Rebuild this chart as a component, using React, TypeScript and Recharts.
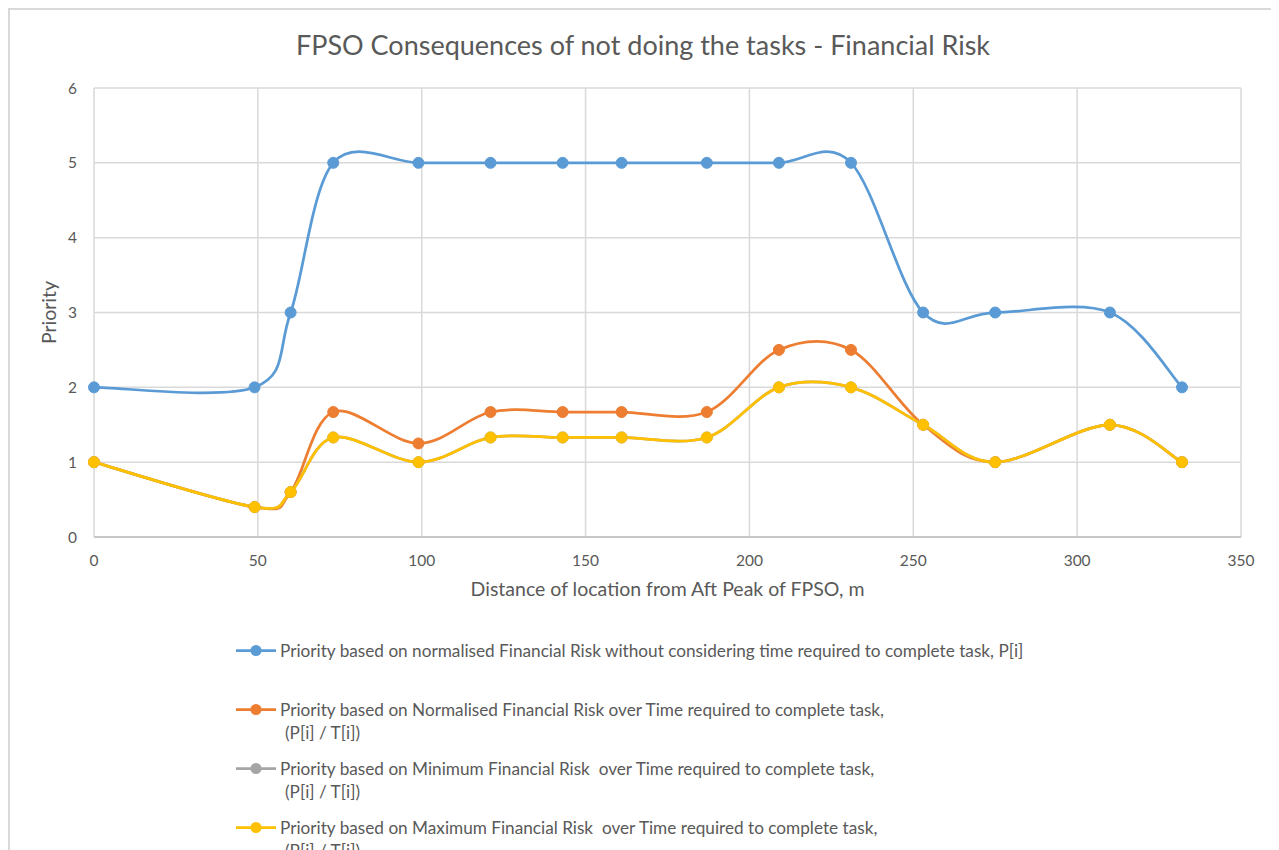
import React from 'react';
import { LineChart, Line, XAxis, YAxis, CartesianGrid } from 'recharts';

const distances = [0, 49, 60, 73, 99, 121, 143, 161, 187, 209, 231, 253, 275, 310, 332];
const priorityP = [2, 2, 3, 5, 5, 5, 5, 5, 5, 5, 5, 3, 3, 3, 2];
const priorityNormOverT = [1, 0.4, 0.6, 1.67, 1.25, 1.67, 1.67, 1.67, 1.67, 2.5, 2.5, 1.5, 1, 1.5, 1];
const priorityMinOverT = [1, 0.4, 0.6, 1.33, 1, 1.33, 1.33, 1.33, 1.33, 2, 2, 1.5, 1, 1.5, 1];
const priorityMaxOverT = [1, 0.4, 0.6, 1.33, 1, 1.33, 1.33, 1.33, 1.33, 2, 2, 1.5, 1, 1.5, 1];

const xTicks = [0, 50, 100, 150, 200, 250, 300, 350];
const yTicks = [0, 1, 2, 3, 4, 5, 6];

const seriesNames = [
  ['Priority based on normalised Financial Risk without considering time required to complete task, P[i]'],
  ['Priority based on Normalised Financial Risk over Time required to complete task,', '(P[i] / T[i])'],
  ['Priority based on Minimum Financial Risk  over Time required to complete task,', '(P[i] / T[i])'],
  ['Priority based on Maximum Financial Risk  over Time required to complete task,', '(P[i] / T[i])'],
];
const seriesKeys = ['p', 'norm', 'min', 'max'];
const seriesColors = ['#5B9BD5', '#ED7D31', '#A5A5A5', '#FFC000'];

const data = distances.map((d, i) => ({
  x: d,
  p: priorityP[i],
  norm: priorityNormOverT[i],
  min: priorityMinOverT[i],
  max: priorityMaxOverT[i],
}));

// Excel-like smoothing (Catmull-Rom style cubic Bezier)
function excelSmooth(context: any) {
  let pts: number[][] = [];
  return {
    areaStart() {},
    areaEnd() {},
    lineStart() {
      pts = [];
    },
    point(x: number, y: number) {
      pts.push([+x, +y]);
    },
    lineEnd() {
      if (!pts.length) return;
      context.moveTo(pts[0][0], pts[0][1]);
      for (let i = 0; i < pts.length - 1; i++) {
        const p0 = pts[i - 1] || pts[i];
        const p1 = pts[i];
        const p2 = pts[i + 1];
        const p3 = pts[i + 2] || p2;
        const c1x = p1[0] + (p2[0] - p0[0]) / 6;
        const c1y = p1[1] + (p2[1] - p0[1]) / 6;
        const c2x = p2[0] - (p3[0] - p1[0]) / 6;
        const c2y = p2[1] - (p3[1] - p1[1]) / 6;
        context.bezierCurveTo(c1x, c1y, c2x, c2y, p2[0], p2[1]);
      }
    },
  };
}

const FONT = 'Lato, "Open Sans", sans-serif';
const TXT = '#595959';

const YLabel = (props: any) => {
  const vb = props.viewBox || {};
  const cx = 38;
  const cy = (vb.y || 0) + (vb.height || 0) / 2;
  return (
    <text x={cx} y={cy} transform={`rotate(-90, ${cx}, ${cy})`} textAnchor="middle" dominantBaseline="central" fill={TXT} fontSize={19.5} fontFamily={FONT}>
      Priority
    </text>
  );
};

export default function App() {
  return (
    <div style={{ position: 'relative', width: 1270, height: 860, border: '2px solid #d9d9d9', boxSizing: 'border-box', background: '#fff', fontFamily: FONT, overflow: 'hidden' }}>
      <div style={{ position: 'absolute', left: 0, width: 1266, top: 18, textAlign: 'center', fontSize: 27, color: TXT, whiteSpace: 'nowrap' }}>
        FPSO Consequences  of not doing the tasks - Financial Risk
      </div>
      <div style={{ position: 'absolute', left: 0, top: 0 }}>
        <LineChart width={1266} height={620} data={data} margin={{ top: 78, right: 35, left: 0, bottom: 63 }}>
          <CartesianGrid stroke="#d9d9d9" strokeWidth={1.5} />
          <XAxis
            dataKey="x"
            type="number"
            domain={[0, 350]}
            ticks={xTicks}
            axisLine={{ stroke: '#bfbfbf', strokeWidth: 1.5 }}
            tickLine={false}
            tickMargin={12}
            height={30}
            tick={{ fill: TXT, fontSize: 15.5, fontFamily: FONT }}
            label={{ value: 'Distance of location from Aft Peak of FPSO, m', position: 'bottom', offset: 15, fill: TXT, fontSize: 19.5, fontFamily: FONT }}
          />
          <YAxis
            type="number"
            domain={[0, 6]}
            ticks={yTicks}
            axisLine={false}
            tickLine={false}
            tickMargin={11}
            width={84}
            tick={{ fill: TXT, fontSize: 15.5, fontFamily: FONT }}
            label={<YLabel />}
          />
          {seriesKeys.map((k, i) => (
            <Line
              key={k}
              dataKey={k}
              type={excelSmooth as any}
              stroke={seriesColors[i]}
              strokeWidth={2.75}
              dot={{ r: 5.5, fill: seriesColors[i], stroke: seriesColors[i], strokeWidth: 1 }}
              activeDot={false}
              isAnimationActive={false}
            />
          ))}
        </LineChart>
      </div>
      {seriesNames.map((lines, i) => (
        <div key={i} style={{ position: 'absolute', left: 226, top: 629 + i * 59, display: 'flex', alignItems: 'flex-start', color: TXT, fontSize: 17.2 }}>
          <svg width={44} height={23} style={{ flex: 'none' }}>
            <line x1={0} y1={11.5} x2={40} y2={11.5} stroke={seriesColors[i]} strokeWidth={2.75} />
            <circle cx={20} cy={11.5} r={5.5} fill={seriesColors[i]} />
          </svg>
          <div style={{ lineHeight: '23px', whiteSpace: 'pre' }}>
            {lines.map((t, j) => (
              <div key={j} style={{ paddingLeft: j > 0 ? 5 : 0 }}>{t}</div>
            ))}
          </div>
        </div>
      ))}
    </div>
  );
}
